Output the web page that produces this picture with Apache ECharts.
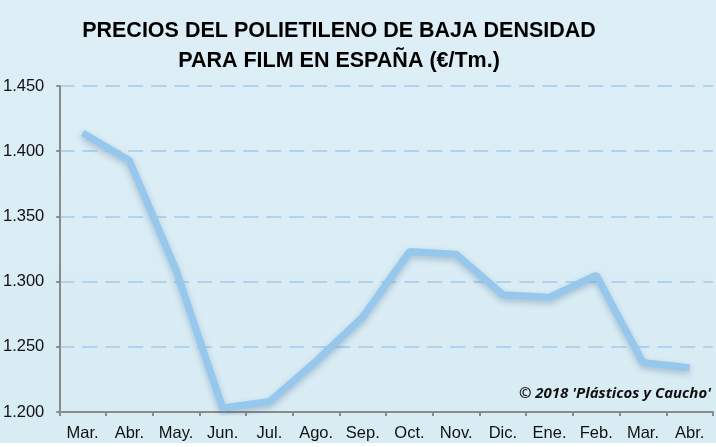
<!DOCTYPE html>
<html>
<head>
<meta charset="utf-8">
<script src="https://cdn.jsdelivr.net/npm/echarts@6/dist/echarts.min.js"></script>
<style>
html,body{margin:0;padding:0;background:#fff;}
#c{width:716px;height:447px;background:linear-gradient(#ddeef6 0px,#d8ecf4 443px,#ffffff 443px,#ffffff 447px);}
</style>
</head>
<body>
<div id="c"></div>
<script>
const titleLines = ['PRECIOS DEL POLIETILENO DE BAJA DENSIDAD', 'PARA FILM EN ESPAÑA (€/Tm.)'];
const categories = ['Mar.','Abr.','May.','Jun.','Jul.','Ago.','Sep.','Oct.','Nov.','Dic.','Ene.','Feb.','Mar.','Abr.'];
const prices = [1414, 1393, 1309, 1203, 1208, 1239, 1273, 1323, 1321, 1290, 1288, 1305, 1238, 1234];
const yMin = 1200, yMax = 1450, yStep = 50;
const credit = "© 2018 'Plásticos y Caucho'";

const chart = echarts.init(document.getElementById('c'));
chart.setOption({
  backgroundColor: 'transparent',
  animation: false,
  title: {
    text: titleLines.join('\n'),
    left: 334, textAlign: 'center',
    top: 11,
    textStyle: {fontFamily: 'Liberation Sans, Arial', fontWeight: 'bold', fontSize: 21.5, color: '#000', lineHeight: 30}
  },
  graphic: [{
    type: 'text', right: 5, top: 386,
    style: {text: credit, font: 'italic bold 15px "Open Sans", sans-serif', fill: '#111'}
  }],
  grid: {left: 59, right: 3, top: 86, bottom: 35},
  xAxis: {
    type: 'category',
    data: categories,
    boundaryGap: true,
    axisLine: {lineStyle: {color: '#8a8a8a', width: 2}},
    axisTick: {show: true, length: 4, lineStyle: {color: '#8a8a8a', width: 2}},
    axisLabel: {fontFamily: 'Liberation Sans, Arial', fontSize: 16.5, color: '#111', margin: 13, interval: 0}
  },
  yAxis: {
    type: 'value',
    min: yMin, max: yMax, interval: yStep,
    axisLine: {show: true, lineStyle: {color: '#8a8a8a', width: 2}},
    axisTick: {show: true, length: 3, lineStyle: {color: '#8a8a8a', width: 2}},
    axisLabel: {
      fontFamily: 'Liberation Sans, Arial', fontSize: 16.5, color: '#111', margin: 15,
      formatter: v => (v / 1000).toFixed(3)
    },
    splitLine: {lineStyle: {color: '#9fcaee', width: 1.5, type: [15, 8]}}
  },
  series: [{
    type: 'line',
    data: prices,
    symbol: 'none',
    lineStyle: {color: '#96c7ed', width: 7, shadowColor: 'rgba(40,80,120,0.3)', shadowBlur: 6, shadowOffsetY: 3},
    itemStyle: {color: '#96c7ed'}
  }]
});
</script>
</body>
</html>
